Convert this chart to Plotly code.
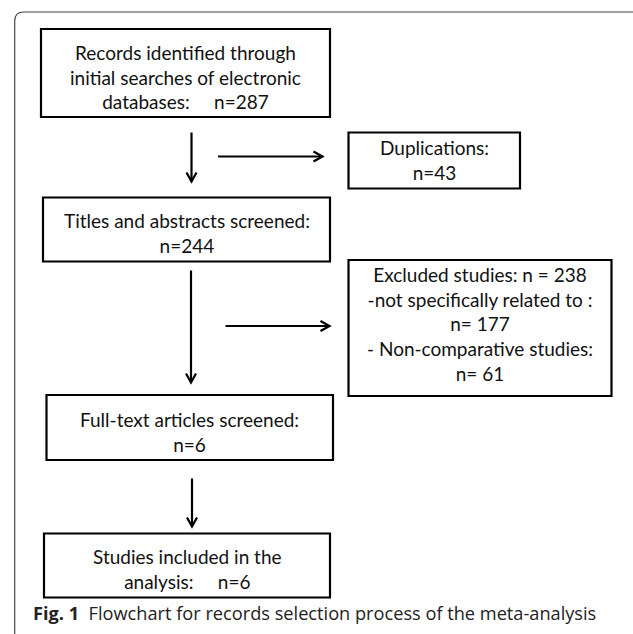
import plotly.graph_objects as go

# ---- data ----
main_stages = ["Records identified through<br>initial searches of electronic<br>databases:",
               "Titles and abstracts screened:",
               "Full-text articles screened:",
               "Studies included in the<br>analysis:"]
main_counts = [287, 244, 6, 6]
side_stages = ["Duplications:", "Excluded studies:"]
side_counts = [43, 238]
exclusion_reasons = ["-not specifically related to :", "- Non-comparative studies:"]
exclusion_counts = [177, 61]
caption_bold = "Fig. 1"
caption_text = "Flowchart for records selection process of the meta-analysis"

# ---- layout (pixel geometry) ----
W, H = 633, 634
main_boxes = [(41, 330, 29, 117), (43, 330, 197.5, 261.5), (46.5, 333, 395, 460), (44, 330, 533.5, 597.5)]
side_boxes = [(348.5, 520, 132.5, 188.5), (348.5, 611.5, 260, 396)]
main_text_y = [77, 233, 432, 569]
side_text_y = [160, 324]
down_arrows = [(191.5, 132.5, 181.5), (191, 270.5, 382.5), (192, 478.5, 526.5)]
right_arrows = [(218, 322.5, 156.5), (225.5, 329.5, 326)]

NB = "\u00a0"
sp = NB * 5

main_texts = [
    main_stages[0] + sp + f"n={main_counts[0]}",
    main_stages[1] + f"<br>n={main_counts[1]}",
    main_stages[2] + f"<br>n={main_counts[2]}",
    main_stages[3] + sp + f"n={main_counts[3]}",
]
side_texts = [
    side_stages[0] + f"<br>n={side_counts[0]}",
    side_stages[1] + f" n = {side_counts[1]}<br>" + exclusion_reasons[0] + f"<br>n= {exclusion_counts[0]}<br>"
    + exclusion_reasons[1] + f"<br>n= {exclusion_counts[1]}",
]

fig = go.Figure()
shapes = []
annotations = []

box_font = dict(family="Lato, Calibri, sans-serif", size=19, color="#111111")

# outer frame (rounded corner top-left)
fx, fy, r = 14.7, 12, 9
shapes.append(dict(type="path",
                   path=f"M {fx},{H+5} L {fx},{fy+r} Q {fx},{fy} {fx+r},{fy} L {W+5},{fy}",
                   line=dict(color="#444444", width=1.2)))

for (x0, x1, y0, y1), txt, ty in zip(main_boxes + side_boxes, main_texts + side_texts, main_text_y + side_text_y):
    shapes.append(dict(type="rect", x0=x0, x1=x1, y0=y0, y1=y1,
                       line=dict(color="black", width=2.2), fillcolor="white", layer="below"))
    annotations.append(dict(x=(x0 + x1) / 2, y=ty, text=txt, showarrow=False,
                            font=box_font, align="center", xanchor="center", yanchor="middle"))

ah_len, ah_w = 9, 5
for x, y0, y1 in down_arrows:
    shapes.append(dict(type="line", x0=x, x1=x, y0=y0, y1=y1, line=dict(color="black", width=2.2)))
    shapes.append(dict(type="path", path=f"M {x-ah_w},{y1-ah_len} L {x},{y1} L {x+ah_w},{y1-ah_len}",
                       line=dict(color="black", width=2.2)))
for x0, x1, y in right_arrows:
    shapes.append(dict(type="line", x0=x0, x1=x1, y0=y, y1=y, line=dict(color="black", width=2.2)))
    shapes.append(dict(type="path", path=f"M {x1-ah_len},{y-ah_w} L {x1},{y} L {x1-ah_len},{y+ah_w}",
                       line=dict(color="black", width=2.2)))

annotations.append(dict(x=31, y=613, xanchor="left", yanchor="middle", showarrow=False,
                        text=f"<b>{caption_bold}</b>{NB*2}{caption_text}",
                        font=dict(family="Open Sans, Noto Sans, sans-serif", size=18.2, color="#222222")))

fig.update_layout(
    width=W, height=H, margin=dict(l=0, r=0, t=0, b=0),
    paper_bgcolor="white", plot_bgcolor="white",
    xaxis=dict(range=[0, W], visible=False, fixedrange=True),
    yaxis=dict(range=[H, 0], visible=False, fixedrange=True),
    shapes=shapes, annotations=annotations, showlegend=False,
)
fig.write_html("out.html", config={"displayModeBar": False},
               post_script="document.body.style.margin='0';document.body.style.overflow='hidden';")
